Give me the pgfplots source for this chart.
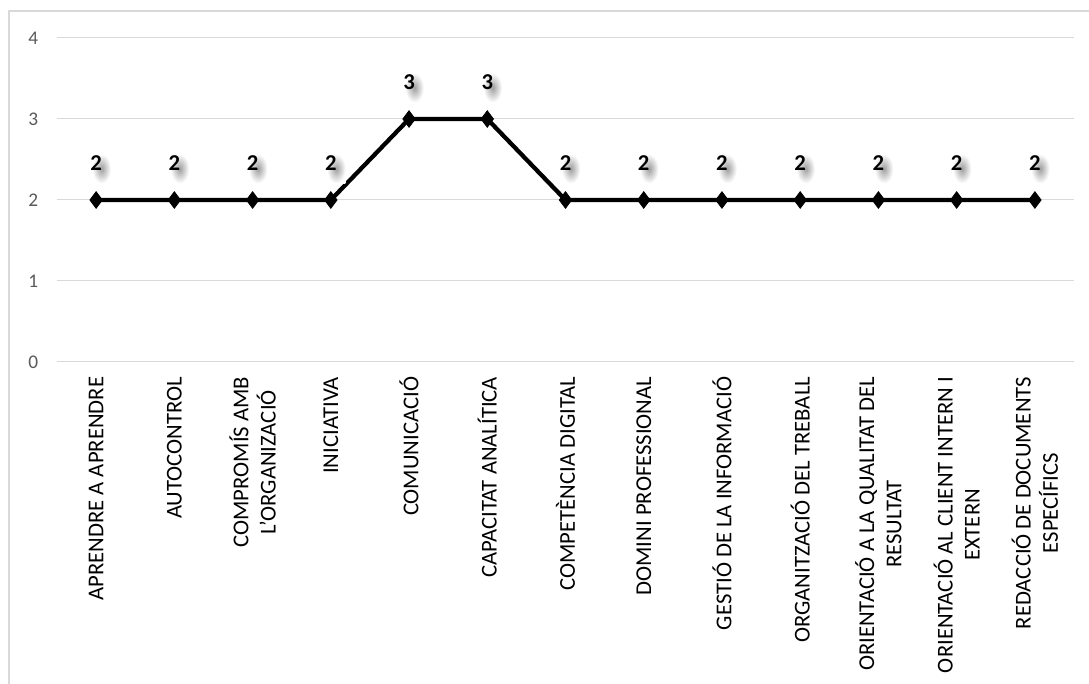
\documentclass[border=0pt]{standalone}
\usepackage{fontspec}
\setmainfont{Carlito}
\usepackage{pgfplots}
\pgfplotsset{compat=1.18}
\definecolor{gridgray}{HTML}{D9D9D9}
\definecolor{ticktext}{HTML}{595959}
\begin{document}
\begin{tikzpicture}
\useasboundingbox (0,0) rectangle (816.75pt,513pt);
\draw[gridgray, line width=1.5pt] (6.75pt,-20pt) -- (6.75pt,504.75pt) -- (840pt,504.75pt);
\begin{axis}[
  at={(42.75pt,241.5pt)}, anchor=south west,
  scale only axis, width=762.75pt, height=243pt,
  xmin=-0.5, xmax=12.5, ymin=0, ymax=4,
  axis x line*=bottom, axis y line*=left,
  x axis line style={draw=gridgray, line width=0.75pt, -},
  y axis line style={draw=none},
  xtick={0,...,12}, ytick={0,...,4},
  major tick length=0pt,
  ymajorgrids, grid style={draw=gridgray, line width=0.75pt},
  /pgf/number format/assume math mode=true,
  yticklabel style={font=\fontsize{14.5}{17}\selectfont, text=ticktext, inner sep=0pt},
  yticklabel shift=14pt,
  xticklabel style={font=\fontsize{17}{20.4}\selectfont, text=black, rotate=90, anchor=east, align=center, inner sep=0pt},
  xticklabel shift=11pt,
  xticklabels={APRENDRE A APRENDRE, AUTOCONTROL, {COMPROMÍS AMB\\L'ORGANIZACIÓ}, INICIATIVA, COMUNICACIÓ, CAPACITAT ANALÍTICA, COMPETÈNCIA DIGITAL, DOMINI PROFESSIONAL, GESTIÓ DE LA INFORMACIÓ, ORGANITZACIÓ DEL TREBALL, {ORIENTACIÓ A LA QUALITAT DEL\\RESULTAT}, {ORIENTACIÓ AL CLIENT INTERN I\\EXTERN}, {REDACCIÓ DE DOCUMENTS\\ESPECÍFICS}},
  clip=false,
]
% soft shadow behind the data labels
\addplot[draw=none, no marks, nodes near coords={},
  every node near coord/.append style={anchor=center, inner sep=0pt, minimum width=14pt, minimum height=22pt,
    shading=radial, inner color=black!38, outer color=white, xshift=4pt, yshift=23.5pt}]
  coordinates {(0,2) (1,2) (2,2) (3,2) (4,3) (5,3) (6,2) (7,2) (8,2) (9,2) (10,2) (11,2) (12,2)};
\addplot[black, line width=3.2pt, mark=diamond*, mark size=6.2pt, mark options={solid, fill=black, line width=0.6pt},
  nodes near coords,
  every node near coord/.append style={font=\bfseries\fontsize{17}{20}\selectfont, text=black, anchor=center, inner sep=0pt, yshift=27.5pt}]
  coordinates {(0,2) (1,2) (2,2) (3,2) (4,3) (5,3) (6,2) (7,2) (8,2) (9,2) (10,2) (11,2) (12,2)};
\end{axis}
\end{tikzpicture}
\end{document}
